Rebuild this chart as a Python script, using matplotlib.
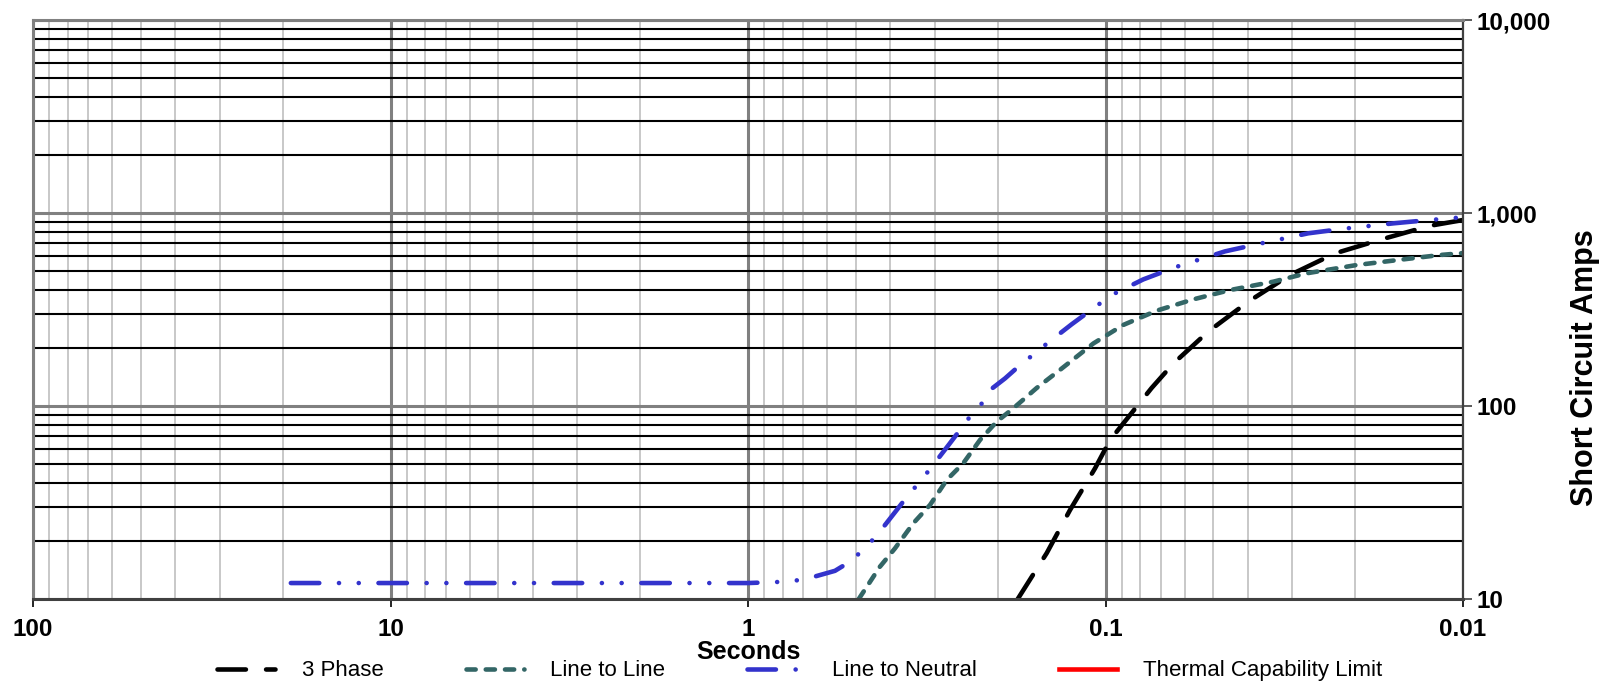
import matplotlib
matplotlib.use('Agg')
import matplotlib.pyplot as plt
from matplotlib.ticker import LogLocator, FuncFormatter, NullFormatter

plt.rcParams['font.family'] = ['Liberation Sans', 'DejaVu Sans']

# Curves (seconds, amps)
three_phase_s = [0.176, 0.146, 0.1257, 0.107, 0.0971, 0.0743, 0.0646, 0.0516,
                 0.0399, 0.0305, 0.0228, 0.01688, 0.01237, 0.01]
three_phase_a = [10, 17.3, 28.9, 47.5, 66.7, 124, 166, 243,
                 347, 477, 618, 731, 859, 920]

line_line_s = [0.49, 0.4276, 0.388, 0.3448, 0.3097, 0.278, 0.25, 0.2244, 0.2016,
               0.1811, 0.1558, 0.134, 0.1081, 0.0892, 0.0719, 0.0568, 0.0448,
               0.0339, 0.0274, 0.0198, 0.01437, 0.0116, 0.01]
line_line_a = [10, 14.7, 18.3, 24.7, 30.7, 41.4, 50.5, 66.7, 82.9,
               97.3, 124, 154, 211, 263, 312, 357, 399,
               441, 487, 538, 578, 606, 620]

line_neutral_s = [19.0, 1.0, 0.78, 0.693, 0.571, 0.516, 0.4735, 0.4365, 0.3855,
                  0.359, 0.333, 0.31, 0.2735, 0.2553, 0.2378, 0.2198, 0.2104,
                  0.191, 0.176, 0.1466, 0.1244, 0.1036, 0.0945, 0.0784, 0.0632,
                  0.0463, 0.0371, 0.0271, 0.0216, 0.01567, 0.01245, 0.01]
line_neutral_a = [12.1, 12.1, 12.3, 12.65, 14.0, 15.7, 18.2, 21.3, 28.6,
                  33.9, 39.9, 47.0, 63.5, 75.1, 89.6, 105, 121,
                  139, 159, 209, 265, 340, 382, 453, 527,
                  633, 693, 785, 829, 884, 920, 950]

# thermal limit falls outside the plotted range, only shows in legend
thermal_s = []
thermal_a = []

x_ticks = [100, 10, 1, 0.1, 0.01]
y_ticks = [10, 100, 1000, 10000]

fig = plt.figure(figsize=(16, 6.86), dpi=100)
ax = fig.add_axes([0.020625, 0.1268, 0.89375, 0.8440])

ax.set_xscale('log')
ax.set_yscale('log')
ax.set_xlim(100, 0.01)
ax.set_ylim(10, 10000)

# grid
ax.xaxis.set_minor_locator(LogLocator(base=10, subs=range(2, 10)))
ax.yaxis.set_minor_locator(LogLocator(base=10, subs=range(2, 10)))
ax.xaxis.set_minor_formatter(NullFormatter())
ax.yaxis.set_minor_formatter(NullFormatter())
ax.grid(True, axis='x', which='minor', color='#c4c4c4', lw=1.3)
ax.grid(True, axis='x', which='major', color='#808080', lw=2.2)
ax.grid(True, axis='y', which='minor', color='black', lw=1.5)
ax.grid(True, axis='y', which='major', color='#808080', lw=2.2)

lw = 3.3
ax.plot(three_phase_s, three_phase_a, color='black', lw=lw,
        dashes=(6.2, 4.4), dash_capstyle='round', label='3 Phase')
ax.plot(line_line_s, line_line_a, color='#336666', lw=lw,
        dashes=(2.0, 2.2), dash_capstyle='round', label='Line to Line')
ax.plot(line_neutral_s, line_neutral_a, color='#3333cc', lw=lw,
        dashes=(6.2, 4.3, 0.01, 4.3, 0.01, 4.3), dash_capstyle='round',
        label='Line to Neutral')
ax.plot(thermal_s, thermal_a, color='red', lw=lw, label='Thermal Capability Limit')

# ticks
ax.set_xticks(x_ticks)
ax.xaxis.set_major_formatter(FuncFormatter(lambda v, p: f'{v:g}'))
ax.yaxis.tick_right()
ax.set_yticks(y_ticks)
ax.yaxis.set_major_formatter(FuncFormatter(lambda v, p: f'{v:,.0f}'))
ax.tick_params(axis='x', which='major', direction='out', length=6, width=1.2,
               color='black', pad=8, labelsize=17.5)
ax.tick_params(axis='y', which='major', direction='out', length=6.5, width=1.2,
               color='#404040', pad=3, labelsize=17.5)
ax.tick_params(which='minor', length=0)
for lab in ax.get_xticklabels() + ax.get_yticklabels():
    lab.set_fontweight('bold')

for side, col, w in [('left', '#808080', 2.2), ('top', '#808080', 2.2),
                     ('right', '#404040', 1.6), ('bottom', '#404040', 2.2)]:
    ax.spines[side].set_color(col)
    ax.spines[side].set_linewidth(w)

ax.set_xlabel('Seconds', fontsize=18, fontweight='bold')
ax.xaxis.label.set_va('center')
ax.xaxis.set_label_coords(0.5, -0.0915)
ax.yaxis.set_label_position('right')
ax.set_ylabel('Short Circuit Amps', fontsize=22, fontweight='bold', rotation=90)
ax.yaxis.label.set_va('center')
ax.yaxis.set_label_coords(1.085, 0.40)

fig.legend(loc='center', bbox_to_anchor=(0.5, 0.022), ncol=4, frameon=False,
           fontsize=16, handlelength=2.6, handletextpad=1.2, columnspacing=3.7)

fig.savefig('out.png', dpi=100)
